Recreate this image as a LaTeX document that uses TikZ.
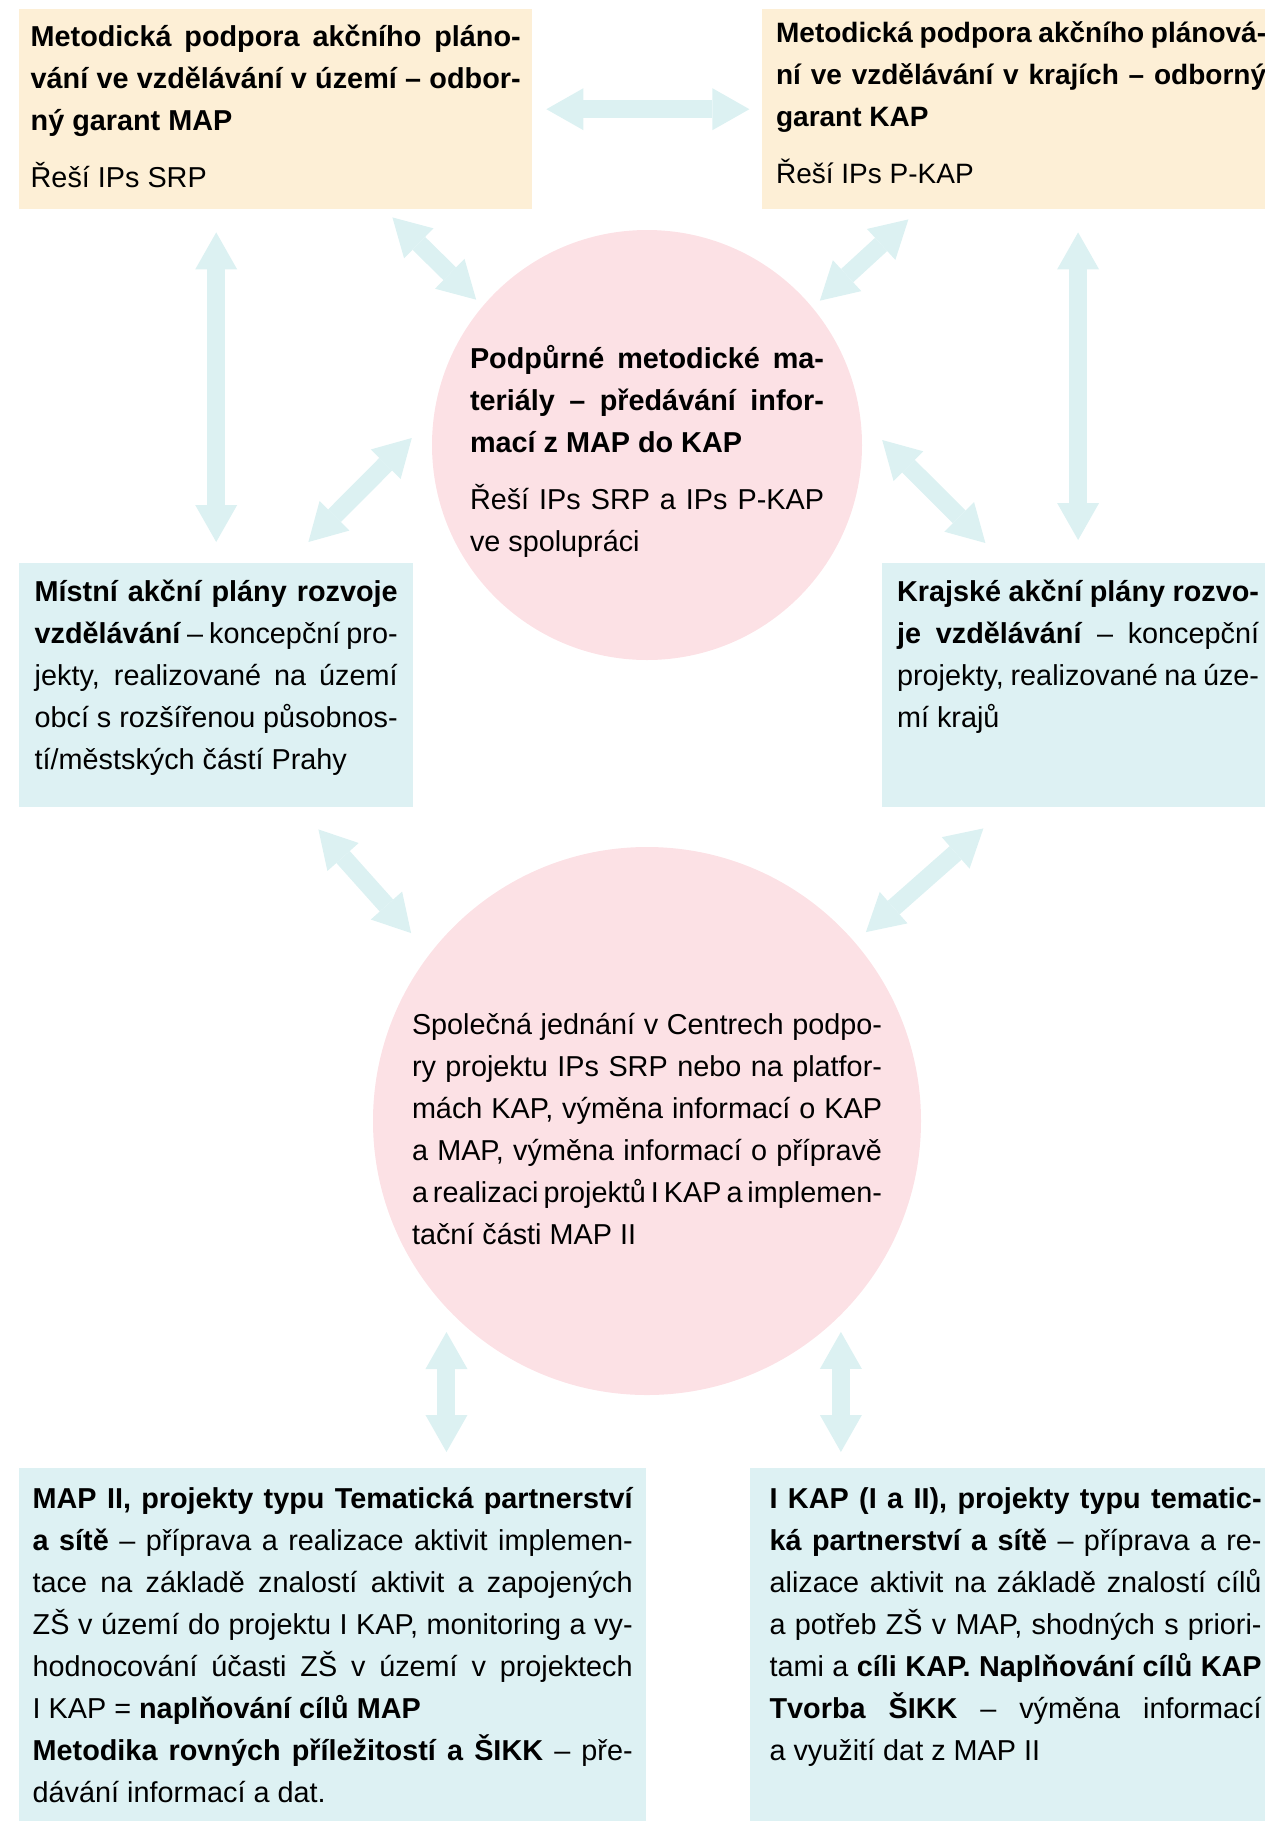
\documentclass[tikz,border=0pt]{standalone}
\usepackage{fontspec}
\setmainfont[WordSpace={1,1,2.5}]{Liberation Sans}
\usepackage{tikz}
\usetikzlibrary{positioning,arrows.meta}

\definecolor{peach}{HTML}{FDEFD6}
\definecolor{lightteal}{HTML}{DDF1F3}
\definecolor{rose}{HTML}{FCE1E5}
\definecolor{arrowteal}{HTML}{DCF1F2}

\newcommand{\tx}{\fontsize{28.8pt}{42pt}\selectfont}
\newcommand{\txs}{\fontsize{28pt}{42pt}\selectfont}
\newcommand{\gap}{\par\vspace{15pt}}
\hyphenpenalty=10000
\exhyphenpenalty=10000
\tolerance=9999

\begin{document}
\begin{tikzpicture}[x=1pt,y=-1pt,>={Triangle[width=42pt,length=37pt,line width=0pt]},
    box/.style={anchor=north west,align=justify,inner ysep=0pt,font=\tx},
    circ/.style={circle,fill=rose,inner sep=0pt,align=justify,font=\tx},
    fat/.style={<->,color=arrowteal,line width=18pt}]
  \useasboundingbox (0,0) rectangle (1265,1821);

  \node[box,fill=peach,text width=490pt,inner xsep=11.5pt,text height=37pt,text depth=163pt] (MAP) at (19,9)
    {\textbf{Metodická podpora akčního pláno-\linebreak vání ve vzdělávání v území – odbor-\linebreak ný garant MAP}\gap Řeší IPs SRP};
  \node[box,fill=peach,font=\txs,text width=490pt,inner xsep=14.5pt,text height=33pt,text depth=167pt] (KAPg) [right=229pt of MAP]
    {\textbf{Metodická podpora akčního plánová-\linebreak ní ve vzdělávání v krajích – odborný\linebreak garant KAP}\gap Řeší IPs P-KAP};

  \node[circ,minimum size=430pt,text width=354pt,text height=45pt,text depth=199pt] (T) at (647,445)
    {\textbf{Podpůrné metodické ma-\linebreak teriály – předávání infor-\linebreak mací z MAP do KAP}\gap Řeší IPs SRP a IPs P-KAP\linebreak ve spolupráci};

  \node[box,fill=lightteal,text width=363pt,inner xsep=15.5pt,text height=38pt,text depth=206pt] (MS) at (19,563)
    {\textbf{Místní akční plány rozvoje\linebreak vzdělávání} – koncepční pro-\linebreak jekty, realizované na území\linebreak obcí s rozšířenou působnos-\linebreak tí/městských částí Prahy};
  \node[box,fill=lightteal,text width=362pt,inner xsep=15.5pt,text height=38pt,text depth=206pt] (KR) [right=468pt of MS]
    {\textbf{Krajské akční plány rozvo-\linebreak je vzdělávání} – koncepční\linebreak projekty, realizované na úze-\linebreak mí krajů};

  \node[circ,minimum size=548pt,text width=470pt,text height=49pt,text depth=223pt] (S) at (647,1121)
    {Společná jednání v Centrech podpo-\linebreak ry projektu IPs SRP nebo na platfor-\linebreak mách KAP, výměna informací o KAP\linebreak a MAP, výměna informací o přípravě\linebreak a realizaci projektů I KAP a implemen-\linebreak tační části MAP II};

  \node[box,fill=lightteal,text width=600pt,inner xsep=13.5pt,text height=40pt,text depth=330pt] (BL) at (19,1468)
    {\textbf{MAP II, projekty typu Tematická partnerství\linebreak a sítě} – příprava a realizace aktivit implemen-\linebreak tace na základě znalostí aktivit a zapojených\linebreak ZŠ v území do projektu I KAP, monitoring a vy-\linebreak hodnocování účasti ZŠ v území v projektech\linebreak I KAP = \textbf{naplňování cílů MAP}\par \textbf{Metodika rovných příležitostí a ŠIKK} – pře-\linebreak dávání informací a dat.};
  \node[box,fill=lightteal,text width=492pt,inner xsep=20pt,text height=40pt,text depth=330pt] (BR) [right=103pt of BL]
    {\textbf{I KAP (I a II), projekty typu tematic-\linebreak ká partnerství a sítě} – příprava a re-\linebreak alizace aktivit na základě znalostí cílů\linebreak a potřeb ZŠ v MAP, shodných s priori-\linebreak tami a \textbf{cíli KAP. Naplňování cílů KAP\linebreak Tvorba ŠIKK} – výměna informací\linebreak a využití dat z MAP II};

  % arrows between the boxes
  \path[fat]
    (MAP.east) edge[shorten <=14pt,shorten >=12pt] (KAPg.west)
    (MAP.south -| MS.north) edge[shorten <=23pt,shorten >=21pt] (MS.north)
    (KAPg.south -| KR.north) edge[shorten <=23pt,shorten >=23pt] (KR.north);

  % arrows round the upper circle
  \path[fat]
    ([shift={(-140,8)}]MAP.south east) edge ([shift={(-6,-7)}]T.140)
    ([shift={(147,10)}]KAPg.south west) edge ([shift={(8,-6)}]T.40)
    ([shift={(-20,-7)}]T.west) edge ([shift={(-105,-21)}]MS.north east)
    ([shift={(20,-5)}]T.east) edge ([shift={(104,-20)}]KR.north west);

  % arrows round the lower circle
  \path[fat]
    ([shift={(-95,22)}]MS.south east) edge ([shift={(-42,6)}]S.135)
    ([shift={(102,21)}]KR.south west) edge ([shift={(25,5)}]S.45)
    (S.223) edge[shorten <=24pt,shorten >=16pt] (S.223 |- BL.north)
    (S.315) edge[shorten <=17pt,shorten >=16pt] (S.315 |- BR.north);
\end{tikzpicture}
\end{document}
